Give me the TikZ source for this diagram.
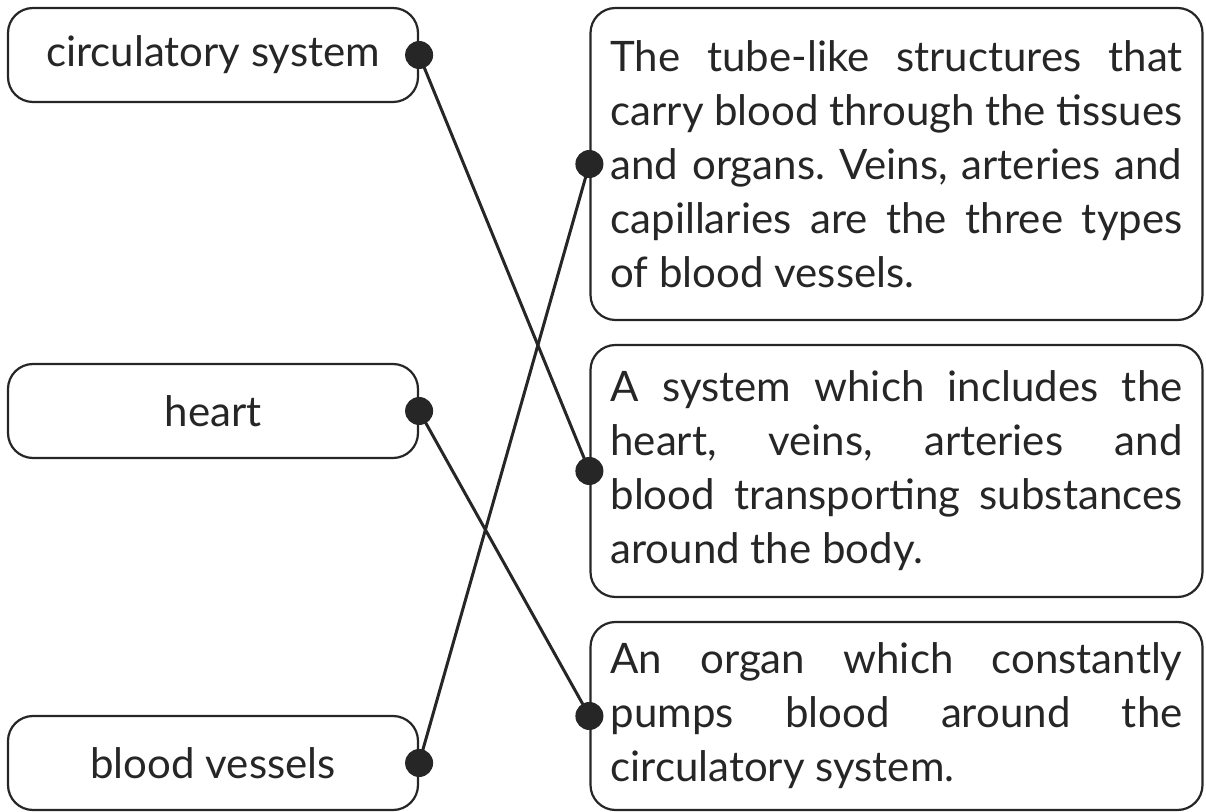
\documentclass[tikz,border=0pt]{standalone}
\usepackage{fontspec}
\setmainfont{Lato}
\frenchspacing
\definecolor{ink}{HTML}{262626}

\begin{document}
\begin{tikzpicture}[x=0.5pt,y=-0.5pt,line width=1.1pt,draw=ink,text=ink]
\tikzstyle{term}=[rectangle,rounded corners=12.5pt,draw,minimum width=205pt,minimum height=47pt,font=\fontsize{21}{27}\selectfont]
\tikzstyle{meaning}=[rectangle,rounded corners=12.5pt,draw,minimum width=306pt,text width=286pt,inner xsep=10pt,align=justify,font=\fontsize{21}{27}\selectfont]
\tikzstyle{dot}=[circle,fill=ink,inner sep=0pt,minimum size=14pt]
\tikzstyle{link}=[line width=1.5pt]
\useasboundingbox (0,0) rectangle (1206,812);

\node[term](circ) at (213,55) {circulatory system};
\node[term](heart) at (213,411) {heart};
\node[term](vess) at (213,763) {blood vessels};

\node[meaning,minimum height=156pt](tubes) at (896.5,164) {The tube-like structures that\linebreak carry blood through the tissues\linebreak and organs. Veins, arteries and\linebreak capillaries are the three types\linebreak of blood vessels.};
\node[meaning,minimum height=126pt](system) at (896.5,471) {A system which includes the\linebreak heart, veins, arteries and\linebreak blood transporting substances\linebreak around the body.};
\node[meaning,minimum height=94pt](organ) at (896.5,716) {An organ which constantly\linebreak pumps blood around the\linebreak circulatory system.};

\node[dot](circ dot) at (circ.east) {};
\node[dot](heart dot) at (heart.east) {};
\node[dot](vess dot) at (vess.east) {};
\node[dot](tubes dot) at (tubes.west) {};
\node[dot](system dot) at (system.west) {};
\node[dot](organ dot) at (organ.west) {};

\draw[link] (circ dot.center) -- (system dot.center);
\draw[link] (heart dot.center) -- (organ dot.center);
\draw[link] (vess dot.center) -- (tubes dot.center);
\end{tikzpicture}
\end{document}
